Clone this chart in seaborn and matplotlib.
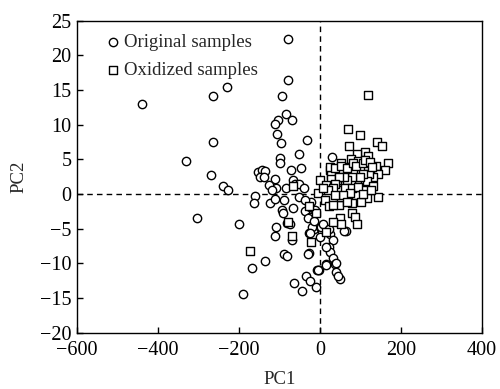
import pandas as pd
import matplotlib
matplotlib.use('Agg')
import matplotlib.pyplot as plt
import seaborn as sns

# PC scores
orig_pc1 = [-440, -264, -230, -264, -331, -269, -239, -228, -304, -201, -190, -135, -167,
            -79, -79, -94, -84, -103, -111, -70, -105, -97, -32, -53, -100, -100, -72, -48, 29,
            -153, -144, -136, -148, -138, -111, -109, -125, -119, -160, -163, -123, -111, -89,
            -84, -66, -62, -51, -51, -67, -94, -92, -37, -23, -25, -37, -109, -111, -82, -74,
            -70, -16, 0, 4, -28, 0, 25, 33, 21, 25, 31, -28, -89, -82, 15, -8, -2, 37, 40, 49,
            -35, -25, -10, -64, -44, 63, -25, -12, -39, -29, -19, -25, 2, 16, 39, 14, -4, 45,
            -29, 60, -14, 8, 21]
orig_pc2 = [13.0, 14.1, 15.4, 7.5, 4.7, 2.8, 1.2, 0.5, -3.4, -4.3, -14.5, -9.7, -10.7,
            22.4, 16.5, 14.1, 11.5, 10.7, 10.1, 10.6, 8.6, 7.4, 7.8, 5.8, 5.2, 4.5, 3.4, 3.8, 5.4,
            3.2, 3.4, 3.3, 2.5, 2.4, 2.1, 0.8, 1.3, 0.5, -0.3, -1.3, -1.3, -0.8, -0.9,
            0.8, 2.0, 1.4, 1.4, -0.5, -2.0, -2.3, -2.8, -2.5, -1.2, -3.3, -0.9, -4.7, -6.0, -4.2, -4.4,
            -6.6, -5.0, -4.8, -5.3, -5.7, -6.2, -5.8, -6.7, -7.6, -8.4, -9.3, -8.5, -8.7, -8.9, -10.1,
            -11.0, -11.0, -10.1, -11.3, -12.2, -11.8, -12.6, -13.4, -12.8, -14.0, -5.4, -1.9, -2.3,
            0.9, -3.4, -4.7, -5.7, -4.7, -7.6, -10.0, -10.2, -11.0, -11.9, -8.6, -5.3, -3.9, -4.4, -5.0]

oxid_pc1 = [119, 70, 99, 140, 153, 72, 110, 119, 92, 76, 95, 51, 138, 167, 161, 144, 74, 117,
            99, 55, 81, 25, 28, 130, 120, 115, 92, 76, 56, 43, 26, 0, 16, 46, 111, 130, 89, 115,
            143, 66, -4, 13, 78, 101, 48, 21, -10, -28, 78, 86, 91, 49, 51, 31, 16, -21, -68,
            -80, -66, -174, 53,
            25, 38, 53, 66, 82, 89, 105, 111, 123, 128, 107, 99, 79, 66, 59, 48, 37, 31, 20, 8,
            62, 78, 95, 74, 58, 37, 33, 66, 107, 125]
oxid_pc2 = [14.3, 9.4, 8.5, 7.5, 6.9, 6.9, 6.1, 5.5, 5.7, 5.1, 4.8, 4.5, 4.1, 4.5, 3.4, 2.9, 3.9,
            3.7, 3.4, 3.4, 3.2, 3.4, 2.7, 2.5, 2.9, 1.8, 2.2, 1.5, 1.7, 2.0, 2.1, 2.0, 1.3, 0.5, 0.6,
            1.1, -0.2, -0.6, -0.5, -0.4, 0.2, -0.9, -1.3, -1.2, -1.6, -1.8, -2.7, -1.8, -2.7, -3.3,
            -4.4, -3.4, -4.3, -4.1, -5.5, -6.9, -6.1, -4.0, 1.1, -8.3, -0.5,
            3.9, 3.7, 4.1, 3.7, 4.4, 4.0, 4.4, 4.9, 4.6, 3.9, 2.9, 2.5, 2.4, 2.0, 2.5, 2.5, 1.5,
            0.9, 0.6, 0.9, 0.9, 0.8, 1.0, 0.1, -0.2, -0.2, -1.6, -1.2, 0.05, 0.5]

x_ticks = [-600, -400, -200, 0, 200, 400]
y_ticks = [-20, -15, -10, -5, 0, 5, 10, 15, 20, 25]

sns.set_style('ticks')
plt.rcParams['font.family'] = ['Liberation Serif', 'DejaVu Serif']

fig = plt.figure(figsize=(5, 3.89), dpi=100)
ax = fig.add_axes([0.154, 0.145, 0.810, 0.802])

# dashed zero lines
ax.axvline(0, color='black', ls=(0, (4, 3)), lw=1.0, zorder=1)
ax.axhline(0, color='black', ls=(0, (4, 3)), lw=1.0, zorder=1)

sns.scatterplot(x=orig_pc1, y=orig_pc2, marker='o', s=36, facecolor='white',
                edgecolor='black', linewidth=1.0, label='Original samples', ax=ax, zorder=2)
sns.scatterplot(x=oxid_pc1, y=oxid_pc2, marker='s', s=32, facecolor='white',
                edgecolor='black', linewidth=1.0, label='Oxidized samples', ax=ax, zorder=3)

ax.set_xlim(-600, 400)
ax.set_ylim(-20, 25)
ax.set_xticks(x_ticks)
ax.set_yticks(y_ticks)
ax.set_xticklabels([str(t).replace('-', '\u2212') for t in x_ticks])
ax.set_yticklabels([str(t).replace('-', '\u2212') for t in y_ticks])
ax.tick_params(direction='in', length=4, width=1, labelsize=14.5, colors='black')
ax.tick_params(axis='x', pad=6)
ax.tick_params(axis='y', pad=4)
for sp in ax.spines.values():
    sp.set_linewidth(1.0)
    sp.set_color('black')

ax.set_xlabel('PC1', fontsize=13.5, labelpad=8)
ax.set_ylabel('PC2', fontsize=13.5, labelpad=9)

ax.legend(loc='upper left', bbox_to_anchor=(0.038, 1.0), frameon=False, fontsize=13.5,
          handletextpad=0.2, borderaxespad=0.3, labelspacing=0.6, handlelength=0.8)

fig.savefig('out.png', dpi=100)
